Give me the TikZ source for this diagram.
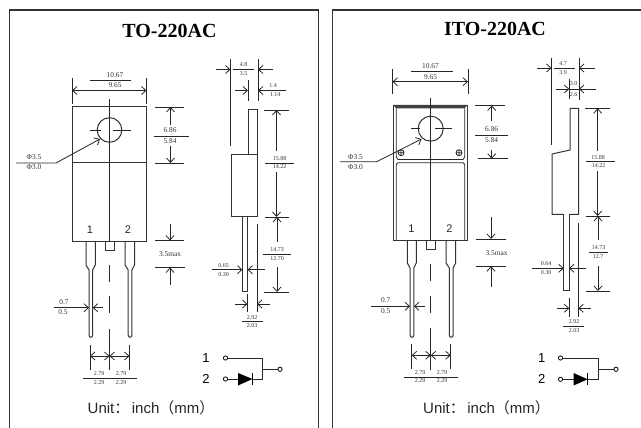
\documentclass[tikz,border=0pt]{standalone}
\usepackage{fontspec}
\setmainfont{Liberation Serif}
\newfontfamily\sansf{Liberation Sans}
\newfontfamily\cjkf{Noto Sans CJK SC}
\usetikzlibrary{arrows.meta}
\newcounter{lblno}
\newcommand{\lbl}[4]{\stepcounter{lblno}\node[#1] (t\thelblno) at (#2) {#3#4};}
\newcommand{\sv}[3]{\lbl{dimtext}{#1,#2}{\fontsize{6}{6}\selectfont}{#3}}
\newcommand{\mv}[3]{\lbl{dimtext}{#1,#2}{\fontsize{7.4}{7.4}\selectfont}{#3}}
\newcommand{\unittext}{Unit{\cjkf：}\hspace{2.5pt}inch{\cjkf（}mm{\cjkf）}}
\tikzset{
  barb/.tip={Straight Barb[length=4.4pt,width=8pt]},
  dimtext/.style={inner sep=0pt,text=black!80},
  titletext/.style={inner sep=0pt,font=\fontsize{20}{20}\selectfont\bfseries},
  unitlabel/.style={inner sep=0pt,anchor=west,font=\sansf\fontsize{15}{15}\selectfont,text=black!85},
  pinlabel/.style={inner sep=0pt,font=\sansf\fontsize{11}{11}\selectfont,text=black!85},
  symlabel/.style={inner sep=0pt,font=\sansf\fontsize{13}{13}\selectfont,text=black},
  frameline/.style={line width=1.3pt,draw=black!80},
  part/.style={line width=1pt,draw=black!80},
  thin dim/.style={line width=0.8pt,draw=black!85},
  darr/.style={thin dim,-barb},
  darrb/.style={thin dim,barb-barb},
  termc/.style={circle,draw=black,line width=0.8pt,fill=white,inner sep=0pt,minimum size=4.2pt},
}
\begin{document}
\begin{tikzpicture}[x=1pt,y=-1pt]
\useasboundingbox (0,0) rectangle (641,428);
% frames
\draw[frameline] (9.3,428) -- (9.3,10) -- (318.5,10) -- (318.5,428);
\draw[frameline] (332.5,428) -- (332.5,10) -- (641,10);
\lbl{titletext}{169.5,31}{}{TO-220AC}
\lbl{titletext}{495,29}{}{ITO-220AC}
\lbl{unitlabel}{87.5,408}{}{\unittext}
\lbl{unitlabel}{423,408}{}{\unittext}

%%% LEFT FRONT VIEW
\draw[part] (72,107) rectangle (146.5,241);
\draw[part] (72,163) -- (146.5,163);
\draw[thin dim] (109.5,99.5) -- (109.5,241);
\draw[part] (109.5,130) circle (12.3);
\draw[thin dim] (89.5,130) -- (101,130) (113,130) -- (131,130);
% tab and leads
\draw[part] (105.3,241) -- (105.3,250) -- (114.3,250) -- (114.3,241);
\draw[part] (86,241) -- (86,265) -- (89,270) -- (89,335) .. controls (89,338) and (92.7,338) .. (92.7,335) -- (92.7,270) -- (95.3,265) -- (95.3,241);
\draw[part] (125,241) -- (125,265) -- (128.2,270) -- (128.2,335) .. controls (128.2,338) and (131.9,338) .. (131.9,335) -- (131.9,270) -- (134.5,265) -- (134.5,241);
\draw[thin dim] (109.5,265) -- (109.5,282) (109.5,296) -- (109.5,313) (109.5,329) -- (109.5,370);
% dims
\draw[thin dim] (72,78) -- (72,104) (146.5,78) -- (146.5,104);
\draw[darrb] (72,90.5) -- (146.5,90.5);
\draw[thin dim] (89.5,80.5) -- (131,80.5);
\mv{115}{75}{10.67}\mv{115}{85.3}{9.65}
\draw[thin dim] (154.5,107) -- (184,107) (155,163) -- (184,163) (153.5,136) -- (189,136);
\draw[darr] (170.5,125) -- (170.5,107);
\draw[darr] (170.5,146) -- (170.5,163);
\mv{170}{130.5}{6.86}\mv{170}{141}{5.84}
\draw[darr] (16,163) -- (56,163) -- (100,139);
\mv{34}{157}{Φ3.5}\mv{34}{167.5}{Φ3.0}
\draw[thin dim] (155,240.5) -- (184,240.5) (154.5,267.5) -- (184.5,267.5);
\draw[darr] (170,223.5) -- (170,240.5);
\draw[darr] (170,285) -- (170,267.5);
\mv{170}{254.5}{3.5max}
\draw[darr] (53.5,307.7) -- (89,307.7);
\draw[darr] (103,307.7) -- (92.7,307.7);
\mv{64}{302}{0.7}\mv{63}{312}{0.5}
\draw[thin dim] (90,345) -- (90,370) (129.5,345) -- (129.5,370) (82.5,378) -- (137,378);
\draw[darrb] (90,356) -- (109.5,356);
\draw[darrb] (109.5,356) -- (129.5,356);
\sv{99}{373.5}{2.79}\sv{121}{373.5}{2.79}\sv{99}{382.7}{2.29}\sv{121}{382.7}{2.29}
\lbl{pinlabel}{90,230}{}{1}
\lbl{pinlabel}{128,230}{}{2}

%%% LEFT SIDE VIEW
\draw[part] (248.5,155) -- (248.5,110) -- (257.5,110) -- (257.5,155);
\draw[part] (231,155) rectangle (257.5,216.5);
\draw[part] (242.5,216.5) -- (242.5,291.7) -- (247.2,291.7) -- (247.2,216.5);
\draw[thin dim] (230.5,59) -- (230.5,146) (258,59) -- (258,101) (248,80) -- (248,101);
\draw[thin dim] (257,224) -- (257,311.7) (247.5,293.5) -- (247.5,311.7);
\draw[darr] (216,69.5) -- (230.5,69.5);
\draw[darr] (273,69.5) -- (258,69.5);
\draw[thin dim] (232.5,69.5) -- (253.5,69.5);
\sv{243.5}{65}{4.8}\sv{243.5}{74}{3.5}
\draw[darr] (234.5,90.5) -- (248,90.5);
\draw[darr] (285.5,90.5) -- (258,90.5);
\sv{273}{85.5}{1.4}\sv{275}{94.7}{1.14}
\draw[thin dim] (264,110) -- (288.5,110) (264.5,217) -- (288.5,217) (265,163) -- (293.5,163);
\draw[darr] (276.5,151) -- (276.5,110);
\draw[darr] (276.5,172) -- (276.5,217);
\sv{279.5}{158.5}{15.88}\sv{279.5}{167}{14.22}
\draw[darr] (277,242) -- (277,217);
\sv{277}{249.7}{14.73}\sv{277}{258.5}{12.70}
\draw[thin dim] (262.5,254) -- (291,254) (264,292) -- (288.5,292);
\draw[darr] (277,267) -- (277,292);
\draw[darr] (212,269.7) -- (242.5,269.7);
\draw[darr] (265,269.7) -- (247.5,269.7);
\sv{223.5}{265.5}{0.65}\sv{223.5}{275}{0.30}
\draw[darr] (234.5,304) -- (247.5,304);
\draw[darr] (270,304) -- (257,304);
\draw[thin dim] (242,321.5) -- (263,321.5);
\sv{252}{317.3}{2.92}\sv{252}{325.7}{2.03}
% symbol left
\lbl{symlabel}{206,358}{}{1}
\lbl{symlabel}{206,378.5}{}{2}
\node[termc] (a1) at (225.5,358) {};
\node[termc] (a2) at (225.5,379) {};
\node[termc] (ao) at (280,369.3) {};
\coordinate (aj) at (262.7,369.3);
\draw[thin dim] (a1) -- (262.7,358) -- (262.7,379) -- (252.5,379);
\draw[thin dim] (aj) -- (ao);
\draw[thin dim] (a2) -- (238,379);
\fill[black] (238,373) -- (252.5,379) -- (238,385.5) -- cycle;
\draw[line width=0.8pt,black] (252.5,373) -- (252.5,385);

%%% RIGHT FRONT VIEW
\draw[part] (393,105.3) rectangle (467.5,240);
\fill[black!75] (393,105) -- (467.5,105) -- (464.7,108.3) -- (396,108.3) -- cycle;
\draw[thin dim] (396.3,108.3) -- (396.3,157) -- (398,159.5) -- (463,159.5) -- (464.7,157) -- (464.7,108.3);
\draw[thin dim] (396.3,240) -- (396.3,164.5) -- (398,162.8) -- (463,162.8) -- (464.7,164.5) -- (464.7,240);
\draw[thin dim] (430.7,98) -- (430.7,240);
\draw[part] (430.7,128.7) circle (12.5);
\draw[thin dim] (411,128.7) -- (420,128.7) (435,128.7) -- (452,128.7);
\draw[thin dim] (401,152.7) circle (3) (398,152.7) -- (404,152.7) (401,149.7) -- (401,155.7);
\draw[thin dim] (459,152.7) circle (3) (456,152.7) -- (462,152.7) (459,149.7) -- (459,155.7);
\draw[part] (426.3,240) -- (426.3,249) -- (435.3,249) -- (435.3,240);
\draw[part] (407.3,240) -- (407.3,263) -- (410,268) -- (410,335) .. controls (410,338) and (413.8,338) .. (413.8,335) -- (413.8,268) -- (416.3,263) -- (416.3,240);
\draw[part] (446,240) -- (446,263) -- (449.3,268) -- (449.3,335) .. controls (449.3,338) and (453.1,338) .. (453.1,335) -- (453.1,268) -- (455.7,263) -- (455.7,240);
\draw[thin dim] (430.7,264.3) -- (430.7,280.7) (430.7,296) -- (430.7,312.7) (430.7,327.7) -- (430.7,370);
\draw[thin dim] (392.5,69) -- (392.5,94) (468,69) -- (468,94);
\draw[darrb] (392.5,81.7) -- (468,81.7);
\draw[thin dim] (410.5,71.5) -- (452.5,71.5);
\mv{430.5}{66}{10.67}\mv{430.5}{77}{9.65}
\draw[thin dim] (475,105.5) -- (505,105.5) (478,158.7) -- (507.5,158.7) (475,135) -- (507.5,135);
\draw[darr] (491.7,121) -- (491.7,105.5);
\draw[darr] (491.7,150) -- (491.7,158.7);
\mv{491.7}{129.5}{6.86}\mv{491.7}{139.7}{5.84}
\draw[darr] (340,161.7) -- (376.7,161.7) -- (421.5,139);
\mv{355.5}{157}{Φ3.5}\mv{355.5}{167.3}{Φ3.0}
\draw[thin dim] (476,239) -- (505.5,239) (476,266.3) -- (506,266.3);
\draw[darr] (491,216.5) -- (491,239);
\draw[darr] (491,286.7) -- (491,266.3);
\mv{496.5}{253.5}{3.5max}
\draw[darr] (371,306.3) -- (410,306.3);
\draw[darr] (424.7,306.3) -- (414,306.3);
\mv{385.7}{300}{0.7}\mv{385.7}{311}{0.5}
\draw[thin dim] (411.7,344) -- (411.7,369) (450.7,344) -- (450.7,369) (404,377) -- (458,377);
\draw[darrb] (411.7,355.3) -- (430.7,355.3);
\draw[darrb] (430.7,355.3) -- (450.7,355.3);
\sv{420}{372.5}{2.79}\sv{442}{372.5}{2.79}\sv{420}{381}{2.29}\sv{442}{381}{2.29}
\lbl{pinlabel}{411.5,229}{}{1}
\lbl{pinlabel}{449.5,229}{}{2}

%%% RIGHT SIDE VIEW
\draw[part] (563.7,214.3) -- (552,214.3) -- (552,154) -- (570,150) -- (570,108.5) -- (578.5,108.5) -- (578.5,214.3) -- (569,214.3);
\draw[part] (563.7,214.3) -- (563.7,290.7) -- (569,290.7) -- (569,214.3);
\draw[thin dim] (551.5,58) -- (551.5,145) (579,58) -- (579,99.7) (569.5,79) -- (569.5,99.5);
\draw[thin dim] (578.3,223.3) -- (578.3,317.3) (569.3,297.7) -- (569.3,317.3);
\draw[darr] (537,68) -- (551.5,68);
\draw[darr] (594.5,68) -- (579,68);
\draw[thin dim] (553.5,68) -- (575,68);
\sv{563}{63.7}{4.7}\sv{563}{73}{3.9}
\draw[darr] (555.5,89) -- (569.3,89);
\draw[darr] (596,89) -- (579,89);
\draw[thin dim] (569.3,89) -- (579,89);
\sv{573.7}{83.5}{3.0}\sv{573.7}{94.5}{2.6}
\draw[thin dim] (585,108.3) -- (609.7,108.3) (585.7,216) -- (609.7,216) (586,161.7) -- (614.7,161.7);
\draw[darr] (597.7,150.7) -- (597.7,108.3);
\draw[darr] (597.7,170.7) -- (597.7,216);
\sv{598}{157.3}{15.88}\sv{598.5}{165.7}{14.22}
\draw[darr] (598,240) -- (598,216);
\sv{598.7}{248}{14.73}\sv{598}{256.7}{12.7}
\draw[thin dim] (589,252.7) -- (607.7,252.7) (585.7,291) -- (609.7,291);
\draw[darr] (598,266) -- (598,291);
\draw[darr] (532.3,268.3) -- (563.7,268.3);
\draw[darr] (586,268.3) -- (569,268.3);
\sv{546}{263.5}{0.64}\sv{546}{273}{0.30}
\draw[darr] (557,308.3) -- (569.3,308.3);
\draw[darr] (591,308.3) -- (578.3,308.3);
\draw[thin dim] (563,326.3) -- (584,326.3);
\sv{574}{322}{2.92}\sv{574}{330.7}{2.03}
% symbol right
\lbl{symlabel}{541.7,358.3}{}{1}
\lbl{symlabel}{541.7,378.7}{}{2}
\node[termc] (b1) at (560.5,358) {};
\node[termc] (b2) at (560.5,379.3) {};
\node[termc] (bo) at (616,369.3) {};
\coordinate (bj) at (598.5,369.3);
\draw[thin dim] (b1) -- (598.5,358) -- (598.5,379.3) -- (587.7,379.3);
\draw[thin dim] (bj) -- (bo);
\draw[thin dim] (b2) -- (573.5,379.3);
\fill[black] (573.5,373) -- (587.7,379.3) -- (573.5,385.5) -- cycle;
\draw[line width=0.8pt,black] (587.7,372.7) -- (587.7,385.3);
\end{tikzpicture}
\end{document}
